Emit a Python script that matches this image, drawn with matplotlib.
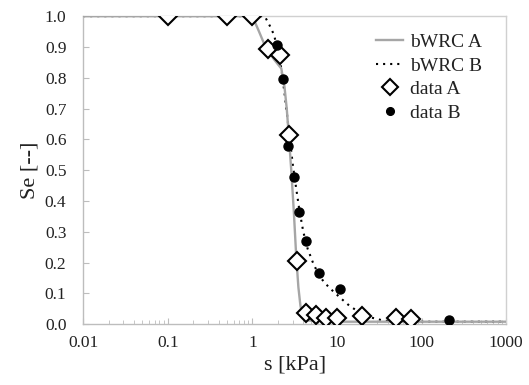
import matplotlib
matplotlib.use('Agg')
import matplotlib.pyplot as plt
from matplotlib.ticker import LogLocator, FixedLocator, NullFormatter

plt.rcParams['font.family'] = ['Liberation Serif', 'DejaVu Serif']

s_data_a = [0.1, 0.5, 1.0, 1.55, 2.1, 2.7, 3.35, 4.3, 5.6, 7.5, 10, 20, 50, 75]
se_data_a = [1.0, 1.0, 1.0, 0.895, 0.875, 0.615, 0.205, 0.035, 0.03, 0.02, 0.02, 0.025, 0.02, 0.018]

s_data_b = [1.95, 2.3, 2.65, 3.1, 3.55, 4.25, 6.2, 11, 210]
se_data_b = [0.905, 0.795, 0.58, 0.478, 0.365, 0.27, 0.167, 0.115, 0.015]

# fitted curves (traced)
s_fit_a = [0.01, 1.0, 1.2, 1.43, 1.8, 2.2, 2.4, 2.55, 2.7, 2.9, 3.1, 3.3, 3.5, 3.7,
           3.9, 4.5, 10, 1000]
se_fit_a = [1.0, 1.0, 0.95, 0.9, 0.86, 0.83, 0.77, 0.70, 0.61, 0.49, 0.36, 0.22,
            0.12, 0.06, 0.03, 0.012, 0.008, 0.008]

s_fit_b = [0.01, 1.4, 1.6, 1.8, 2.0, 2.2, 2.4, 2.7, 3.0, 3.3, 3.6, 4.0, 4.5, 5.2,
           6.2, 8, 11, 14, 18, 25, 35, 50, 100, 1000]
se_fit_b = [1.0, 1.0, 0.97, 0.94, 0.89, 0.83, 0.75, 0.63, 0.52, 0.44, 0.37, 0.30,
            0.245, 0.20, 0.155, 0.12, 0.085, 0.06, 0.04, 0.022, 0.012, 0.008, 0.008,
            0.008]

y_ticks = [0.0, 0.1, 0.2, 0.3, 0.4, 0.5, 0.6, 0.7, 0.8, 0.9, 1.0]
x_ticks = [0.01, 0.1, 1, 10, 100, 1000]
x_labels = ['0.01', '0.1', '1', '10', '100', '1000']

fig = plt.figure(figsize=(5.29, 3.85), dpi=100)
ax = fig.add_axes([0.157, 0.158, 0.8, 0.8])

ax.plot(s_fit_b, se_fit_b, color='black', lw=1.5, ls=(0, (1, 2.4)),
        dash_capstyle='butt', label='bWRC B', zorder=2)
ax.plot(s_fit_a, se_fit_a, color='#a6a6a6', lw=1.7, label='bWRC A', zorder=3)
ax.plot(s_data_a, se_data_a, ls='none', marker='D', ms=9.5, mfc='white',
        mec='black', mew=1.5, label='data A', zorder=4)
ax.plot(s_data_b, se_data_b, ls='none', marker='o', ms=6.5, mfc='black',
        mec='black', label='data B', zorder=5)

ax.set_xscale('log')
ax.set_xlim(0.01, 1000)
ax.set_ylim(0.0, 1.0)
ax.xaxis.set_major_locator(FixedLocator(x_ticks))
ax.set_xticklabels(x_labels)
ax.xaxis.set_minor_locator(LogLocator(base=10, subs=range(2, 10), numticks=20))
ax.xaxis.set_minor_formatter(NullFormatter())
ax.set_yticks(y_ticks)
ax.set_yticklabels(['%.1f' % v for v in y_ticks])

for side in ax.spines:
    ax.spines[side].set_color('#d0d0d0')
    ax.spines[side].set_linewidth(1.0)
ax.spines['bottom'].set_color('#bdbdbd')
ax.spines['left'].set_color('#bdbdbd')

ax.tick_params(axis='both', which='both', direction='in', color='#bdbdbd',
               labelsize=12.5, labelcolor='#222222')
ax.tick_params(axis='x', which='major', length=4, pad=8)
ax.tick_params(axis='x', which='minor', length=3)
ax.tick_params(axis='y', which='major', length=4, pad=12)
ax.tick_params(top=False, right=False, which='both')

ax.set_xlabel('s [kPa]', fontsize=16, color='#222222', labelpad=3)
ax.set_ylabel('Se [--]', fontsize=16, color='#222222', labelpad=4)

handles, labels = ax.get_legend_handles_labels()
order = [1, 0, 2, 3]
ax.legend([handles[i] for i in order], [labels[i] for i in order],
          loc='upper right', frameon=False, fontsize=14, handlelength=1.4,
          handletextpad=0.35, labelspacing=0.3, borderaxespad=0.5,
          markerscale=0.85, bbox_to_anchor=(0.985, 1.0), labelcolor='#222222')

fig.savefig('out.png', dpi=100)
